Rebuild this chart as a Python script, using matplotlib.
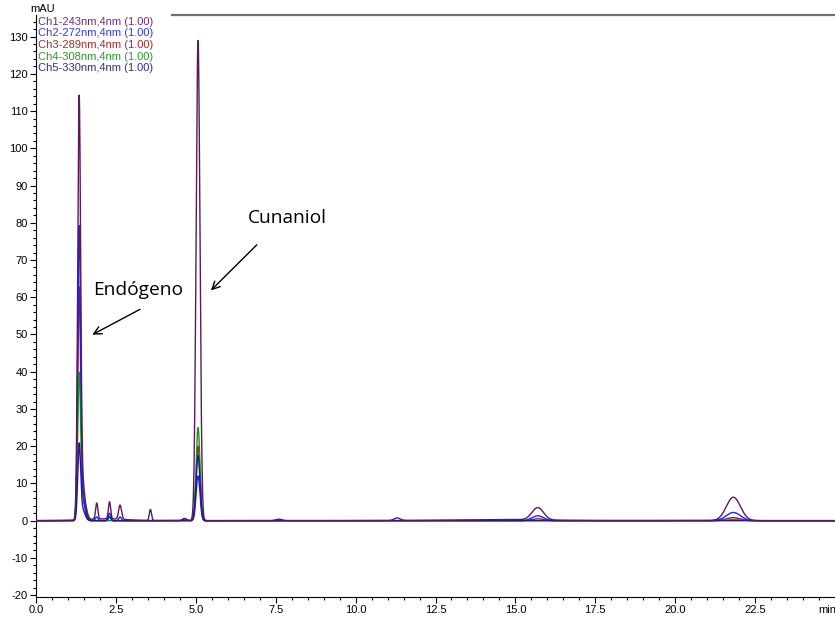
import numpy as np
import matplotlib
matplotlib.use("Agg")
import matplotlib.pyplot as plt
from matplotlib.ticker import MultipleLocator

# ---- data: peak tables (retention time [min], height [mAU], width sigma [min]) ----
ch_labels = ["Ch1-243nm,4nm (1.00)", "Ch2-272nm,4nm (1.00)", "Ch3-289nm,4nm (1.00)",
             "Ch4-308nm,4nm (1.00)", "Ch5-330nm,4nm (1.00)"]
ch_colors = ["#5a1a5a", "#1f1fff", "#a01818", "#129a12", "#1c1c8a"]
ch_text_colors = ["#6e2e6e", "#3535ff", "#a52a2a", "#2a9a2a", "#2e2e8e"]

ch1_rt = [1.35, 1.45, 1.90, 2.30, 2.63, 3.58, 4.65, 5.07, 7.60, 11.30, 15.70, 21.82, 2.2, 14.5]
ch1_h  = [109.5, 10.0, 4.3, 4.6, 3.8, 3.0, 0.6, 129.0, 0.4, 0.7, 3.3, 6.3, 0.5, 0.3]
ch1_w  = [0.045, 0.08, 0.035, 0.035, 0.045, 0.035, 0.06, 0.06, 0.1, 0.1, 0.18, 0.22, 0.6, 1.5]

ch2_rt = [1.35, 1.45, 1.90, 2.30, 2.63, 4.65, 5.07, 15.70, 21.82]
ch2_h  = [76.5, 6.0, 1.0, 2.0, 1.0, 0.5, 12.0, 1.3, 2.2]
ch2_w  = [0.045, 0.08, 0.04, 0.04, 0.04, 0.06, 0.06, 0.18, 0.22]

ch3_rt = [1.35, 1.45, 2.30, 5.07, 15.70, 21.82]
ch3_h  = [60.0, 6.0, 1.0, 20.0, 0.5, 0.8]
ch3_w  = [0.045, 0.08, 0.04, 0.06, 0.18, 0.22]

ch4_rt = [1.35, 1.47, 5.07, 21.82]
ch4_h  = [37.0, 6.0, 25.0, 0.3]
ch4_w  = [0.045, 0.10, 0.06, 0.22]

ch5_rt = [1.35, 1.45, 2.30, 5.07]
ch5_h  = [19.5, 3.0, 1.0, 17.5]
ch5_w  = [0.045, 0.08, 0.04, 0.06]

channels = [(ch1_rt, ch1_h, ch1_w), (ch2_rt, ch2_h, ch2_w), (ch3_rt, ch3_h, ch3_w),
            (ch4_rt, ch4_h, ch4_w), (ch5_rt, ch5_h, ch5_w)]

t = np.linspace(0, 25, 6000)

def trace(rts, hs, ws):
    y = np.zeros_like(t)
    for r, h, w in zip(rts, hs, ws):
        y += h * np.exp(-0.5 * ((t - r) / w) ** 2)
    return y

fig = plt.figure(figsize=(8.35, 6.23), dpi=100)
ax = fig.add_axes([36/835, 1 - 597/623, 1 - 36/835, (597 - 15)/623])

order = [2, 3, 1, 4, 0]
for z, i in enumerate(order):
    rts, hs, ws = channels[i]
    ax.plot(t, trace(rts, hs, ws), color=ch_colors[i], lw=1.0, zorder=2 + z)

ax.set_xlim(0, 25)
ax.set_ylim(-20.5, 135.8)

ax.xaxis.set_minor_locator(MultipleLocator(0.5))
ax.yaxis.set_minor_locator(MultipleLocator(2))

xt = [0, 2.5, 5, 7.5, 10, 12.5, 15, 17.5, 20, 22.5, 25]
ax.set_xticks(xt)
ax.set_xticklabels([f"{v:.1f}" for v in xt[:-1]] + [""])
yt = list(range(-20, 131, 10))
ax.set_yticks(yt)
ax.set_yticklabels([str(v) for v in yt])

ax.tick_params(axis="both", which="major", direction="out", length=4, width=0.8,
               labelsize=8, pad=2)
ax.tick_params(axis="both", which="minor", direction="out", length=2.5, width=0.8)
for lab in ax.get_xticklabels() + ax.get_yticklabels():
    lab.set_family("Liberation Sans")

ax.spines["right"].set_visible(False)
ax.spines["top"].set_visible(False)
ax.spines["left"].set_linewidth(0.8)
ax.spines["bottom"].set_linewidth(0.8)
ax.axhline(135.8, xmin=0.17, xmax=1.0, color="#707070", lw=1.6, clip_on=False)

fig.text(30/835, 1 - 9/623, "mAU", fontsize=8, family="Liberation Sans", va="center", ha="left")
fig.text(818/835, 1 - 610/623, "min", fontsize=8, family="Liberation Sans", va="center", ha="left")

for i, lab in enumerate(ch_labels):
    ax.text(0.002, 1 - (7 + 11.5 * i) / 582, lab, transform=ax.transAxes, fontsize=8,
            family="Liberation Sans", color=ch_text_colors[i], va="center", ha="left")

ax.annotate("", xy=(1.685, 49.6), xytext=(3.33, 57.1),
            arrowprops=dict(arrowstyle="->", color="black", lw=1.0, mutation_scale=14))
ax.annotate("", xy=(5.41, 61.3), xytext=(6.97, 74.6),
            arrowprops=dict(arrowstyle="->", color="black", lw=1.0, mutation_scale=14))
ax.text(3.21, 61.9, "Endógeno", fontsize=13.8, family="Open Sans", ha="center", va="center")
ax.text(7.87, 81.3, "Cunaniol", fontsize=13.8, family="Open Sans", ha="center", va="center")

fig.savefig("out.png", dpi=100)
